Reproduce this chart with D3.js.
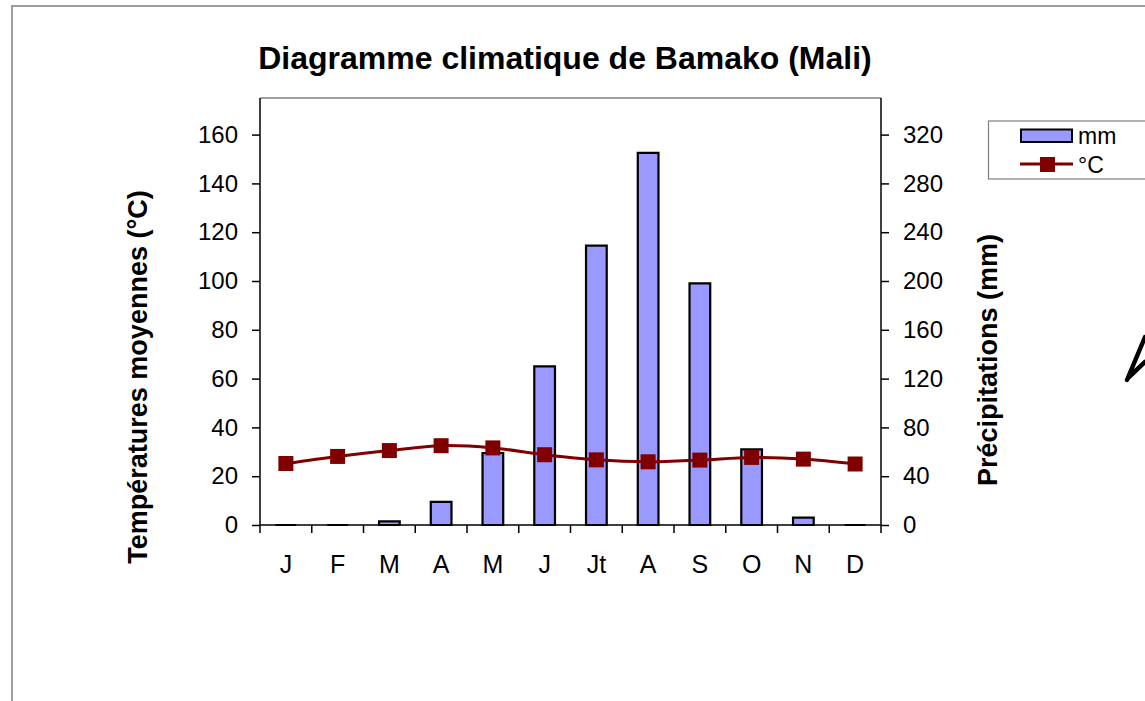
<!DOCTYPE html>
<html>
<head>
<meta charset="utf-8">
<script src="https://cdn.jsdelivr.net/npm/d3@7"></script>
<style>
  body { margin: 0; background: #fff; }
  svg { display: block; font-family: "Liberation Sans", Arial, sans-serif; }
</style>
</head>
<body>
<svg id="chart" width="1145" height="701"></svg>
<script>
// values
const months = ["J", "F", "M", "A", "M", "J", "Jt", "A", "S", "O", "N", "D"];
const precip = [0, 0, 3, 19, 59, 130, 229, 305, 198, 62, 6, 0];       // mm, right axis
const temps = [25.2, 28.1, 30.5, 32.5, 31.6, 28.8, 26.7, 25.9, 26.6, 27.7, 27.0, 25.0]; // °C, left axis
const leftTicks = [0, 20, 40, 60, 80, 100, 120, 140, 160];
const rightTicks = [0, 40, 80, 120, 160, 200, 240, 280, 320];

const margin = { left: 260, right: 881, top: 98, bottom: 525 };

const svg = d3.select("#chart");

let data = months.map(function(m, i) {
    return { ind: i, label: m, mm: precip[i], t: temps[i] };
});

let xScale = d3.scaleBand()
               .domain(d3.range(months.length))
               .range([margin.left, margin.right]);
let yLeft = d3.scaleLinear().domain([0, 175]).range([margin.bottom, margin.top]);
let yRight = d3.scaleLinear().domain([0, 350]).range([margin.bottom, margin.top]);

// outer chart frame (runs off the window to the right and bottom)
svg.append("path")
   .attr("d", "M12,701 L12,6 L1145,6")
   .attr("fill", "none")
   .attr("stroke", "#7f7f7f")
   .attr("stroke-width", 1.5);

// title
svg.append("text")
   .attr("x", 565)
   .attr("y", 69)
   .attr("text-anchor", "middle")
   .attr("font-weight", "bold")
   .attr("font-size", 32)
   .text("Diagramme climatique de Bamako (Mali)");

// plot area border (top line grey)
svg.append("line")
   .attr("x1", margin.left).attr("x2", margin.right)
   .attr("y1", margin.top).attr("y2", margin.top)
   .attr("stroke", "#808080")
   .attr("stroke-width", 1.5);

// bars (paths so that zero values still show as a flat outline)
let bw = xScale.bandwidth() / 2.5;
svg.append("g")
   .attr("id", "bars")
   .selectAll("path")
   .data(data)
   .join("path")
   .attr("d", function(d) {
       let x0 = xScale(d.ind) + (xScale.bandwidth() - bw) / 2;
       let y0 = yRight(0), y1 = yRight(d.mm);
       return `M${x0},${y0}V${y1}H${x0 + bw}V${y0}Z`;
   })
   .attr("fill", "#9999ff")
   .attr("stroke", "#000")
   .attr("stroke-width", 2.2)
   .attr("stroke-linejoin", "miter");

// axes
let leftAxis = d3.axisLeft(yLeft).tickValues(leftTicks).tickSize(8).tickPadding(14);
let gl = svg.append("g")
            .attr("transform", `translate(${margin.left},0)`)
            .call(leftAxis);

let rightAxis = d3.axisRight(yRight).tickValues(rightTicks).tickSize(8).tickPadding(14);
let gr = svg.append("g")
            .attr("transform", `translate(${margin.right},0)`)
            .call(rightAxis);

let bottomAxis = d3.axisBottom(xScale).tickSize(0).tickPadding(30).tickFormat(i => months[i]);
let gb = svg.append("g")
            .attr("transform", `translate(0,${margin.bottom})`)
            .call(bottomAxis);

// category separator ticks
svg.append("g")
   .selectAll("line")
   .data(d3.range(months.length + 1))
   .join("line")
   .attr("x1", i => margin.left + i * xScale.step())
   .attr("x2", i => margin.left + i * xScale.step())
   .attr("y1", margin.bottom)
   .attr("y2", margin.bottom + 8)
   .attr("stroke", "#000")
   .attr("stroke-width", 1.5);

[gl, gr, gb].forEach(function(g) {
    g.select(".domain").attr("stroke", "#000").attr("stroke-width", 1.5);
    g.selectAll(".tick line").attr("stroke", "#000").attr("stroke-width", 1.5);
    g.selectAll(".tick text")
     .attr("font-family", "Liberation Sans, Arial, sans-serif")
     .attr("font-size", 24)
     .attr("fill", "#000");
});
gb.selectAll(".tick text").attr("font-size", 25);
gl.select(".domain").attr("d", `M0,${margin.top}V${margin.bottom}`);
gr.select(".domain").attr("d", `M0,${margin.top}V${margin.bottom}`);
gb.select(".domain").attr("d", `M${margin.left},0H${margin.right}`);

// axis titles
svg.append("text")
   .attr("transform", "translate(147,377) rotate(-90)")
   .attr("text-anchor", "middle")
   .attr("font-weight", "bold")
   .attr("font-size", 27)
   .text("Températures moyennes (°C)");

svg.append("text")
   .attr("transform", "translate(997,360) rotate(-90)")
   .attr("text-anchor", "middle")
   .attr("font-weight", "bold")
   .attr("font-size", 27)
   .text("Précipitations (mm)");

// temperature line
let line = d3.line()
             .x(d => xScale(d.ind) + xScale.bandwidth() / 2)
             .y(d => yLeft(d.t))
             .curve(d3.curveCatmullRom.alpha(0.5));

svg.append("path")
   .datum(data)
   .attr("d", line)
   .attr("fill", "none")
   .attr("stroke", "#800000")
   .attr("stroke-width", 3);

svg.append("g")
   .selectAll("rect")
   .data(data)
   .join("rect")
   .attr("x", d => xScale(d.ind) + xScale.bandwidth() / 2 - 7.5)
   .attr("y", d => yLeft(d.t) - 7.5)
   .attr("width", 15)
   .attr("height", 15)
   .attr("fill", "#800000");

// legend
let legend = svg.append("g").attr("id", "legend");
legend.append("rect")
      .attr("x", 988.5).attr("y", 121)
      .attr("width", 180).attr("height", 58)
      .attr("fill", "#fff")
      .attr("stroke", "#808080")
      .attr("stroke-width", 1.2);
legend.append("rect")
      .attr("x", 1021).attr("y", 129.5)
      .attr("width", 51).attr("height", 12.5)
      .attr("fill", "#9999ff")
      .attr("stroke", "#000")
      .attr("stroke-width", 2);
legend.append("text")
      .attr("x", 1078).attr("y", 144)
      .attr("font-size", 23)
      .text("mm");
legend.append("line")
      .attr("x1", 1020).attr("x2", 1073)
      .attr("y1", 164).attr("y2", 164)
      .attr("stroke", "#800000")
      .attr("stroke-width", 3);
legend.append("rect")
      .attr("x", 1040).attr("y", 157)
      .attr("width", 15).attr("height", 15)
      .attr("fill", "#800000");
legend.append("text")
      .attr("x", 1078).attr("y", 173)
      .attr("font-size", 23)
      .text("°C");

// stray pen stroke at the right edge
svg.append("path")
   .attr("d", "M1127,380 L1145,337 M1128,378 L1145,362")
   .attr("fill", "none")
   .attr("stroke", "#000")
   .attr("stroke-width", 4.5)
   .attr("stroke-linecap", "round");
</script>
</body>
</html>
